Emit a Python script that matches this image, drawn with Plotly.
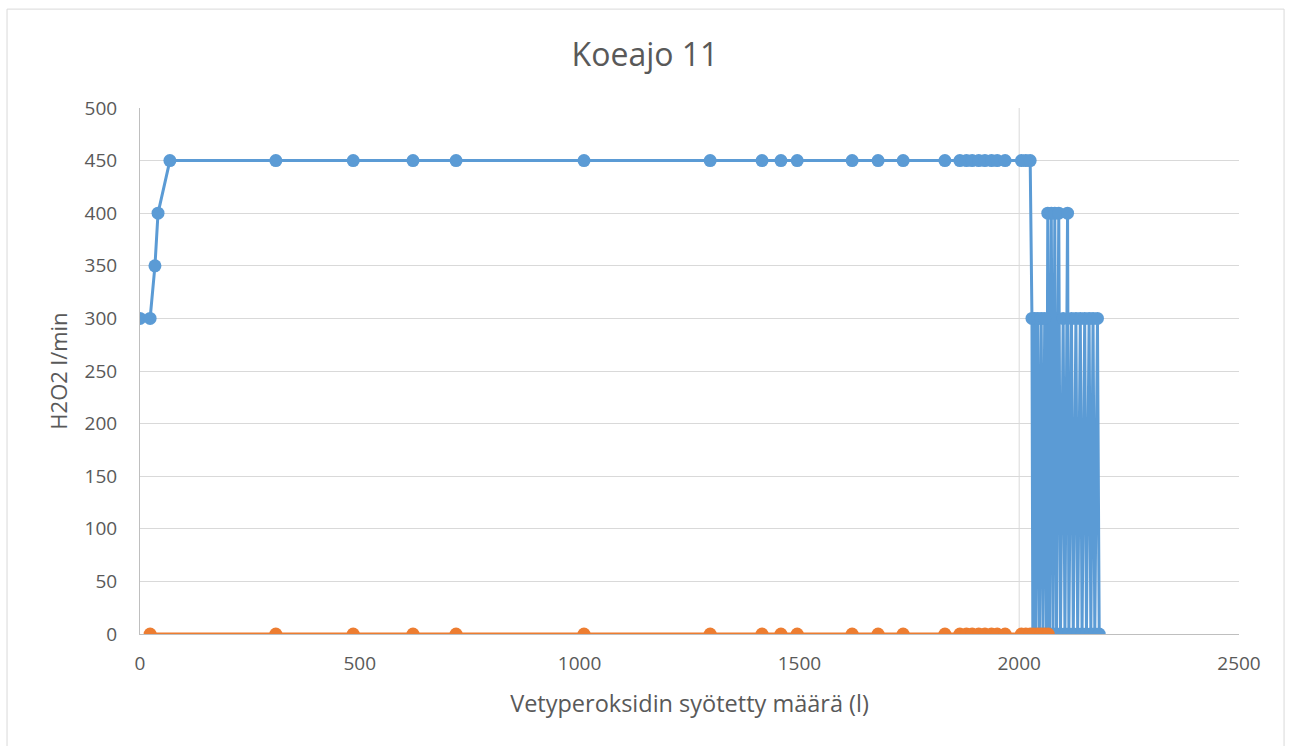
import plotly.graph_objects as go

# Blue series (H2O2 l/min)
blue_x = [0, 23, 34, 41, 68, 309, 485, 621, 719, 1010, 1297, 1415, 1458, 1495,
          1620, 1679, 1736, 1831, 1865, 1880, 1893, 1908, 1922, 1937, 1950, 1968,
          2005, 2015, 2025,
          2029, 2031, 2035, 2038, 2042, 2046, 2050, 2054, 2058, 2062,
          2065, 2069, 2073, 2077, 2081, 2085, 2090, 2094, 2100, 2104,
          2110, 2113, 2119, 2123, 2129, 2133, 2139, 2143, 2149, 2153,
          2159, 2163, 2168, 2172, 2178, 2182]
blue_y = [300, 300, 350, 400, 450, 450, 450, 450, 450, 450, 450, 450, 450, 450,
          450, 450, 450, 450, 450, 450, 450, 450, 450, 450, 450, 450,
          450, 450, 450,
          300, 0, 300, 0, 300, 0, 300, 0, 300, 0,
          400, 0, 400, 0, 400, 0, 400, 0, 300, 0,
          400, 0, 300, 0, 300, 0, 300, 0, 300, 0,
          300, 0, 300, 0, 300, 0]

# Orange series
orange_x = [23, 309, 485, 621, 719, 1010, 1297, 1415, 1458, 1495,
            1620, 1679, 1736, 1831, 1865, 1880, 1893, 1908, 1922, 1937, 1950, 1968,
            2005, 2015, 2025, 2033, 2042, 2050, 2058, 2066]
orange_y = [0] * len(orange_x)

x_ticks = [0, 500, 1000, 1500, 2000, 2500]
y_ticks = [0, 50, 100, 150, 200, 250, 300, 350, 400, 450, 500]

FONT = "'Open Sans', 'DejaVu Sans', sans-serif"
TXT = "#595959"
GRID = "#D9D9D9"

fig = go.Figure()
fig.add_trace(go.Scatter(x=blue_x, y=blue_y, mode="lines+markers",
                         line=dict(color="#5B9BD5", width=3),
                         marker=dict(color="#5B9BD5", size=13),
                         showlegend=False))
fig.add_trace(go.Scatter(x=orange_x, y=orange_y, mode="lines+markers",
                         line=dict(color="#ED7D31", width=3),
                         marker=dict(color="#ED7D31", size=13),
                         showlegend=False))

fig.update_layout(
    width=1290, height=746,
    margin=dict(l=140, r=51, t=108, b=112),
    paper_bgcolor="white", plot_bgcolor="white",
    font=dict(family=FONT, color=TXT, size=18),
    title=dict(text="Koeajo 11", x=0.5, xanchor="center", y=0.927, yanchor="middle",
               font=dict(family=FONT, size=32, color=TXT)),
    xaxis=dict(range=[0, 2500], tickvals=x_ticks, showgrid=False, zeroline=False,
               showline=True, linecolor="#BFBFBF", linewidth=1,
               ticks="", ticklabelstandoff=12, tickfont=dict(size=19, color=TXT),
               title=dict(text="Vetyperoksidin syötetty määrä (l)", standoff=20,
                          font=dict(size=23.5, color=TXT))),
    yaxis=dict(range=[0, 500], tickvals=y_ticks, showgrid=True, gridcolor=GRID,
               gridwidth=1, zeroline=False, showline=True, linecolor="#BFBFBF",
               linewidth=1, ticks="", ticklabelstandoff=18,
               tickfont=dict(size=19, color=TXT),
               title=dict(text="H2O2 l/min", standoff=10,
                          font=dict(size=22, color=TXT))),
    shapes=[
        dict(type="rect", xref="paper", yref="paper", x0=-0.121, x1=1.041,
             y0=-0.3, y1=1.188, line=dict(color=GRID, width=1), layer="below"),
        dict(type="line", xref="x", yref="paper", x0=2000, x1=2000, y0=0, y1=1,
             line=dict(color=GRID, width=1), layer="below"),
    ],
)

fig.write_html("out.html")
